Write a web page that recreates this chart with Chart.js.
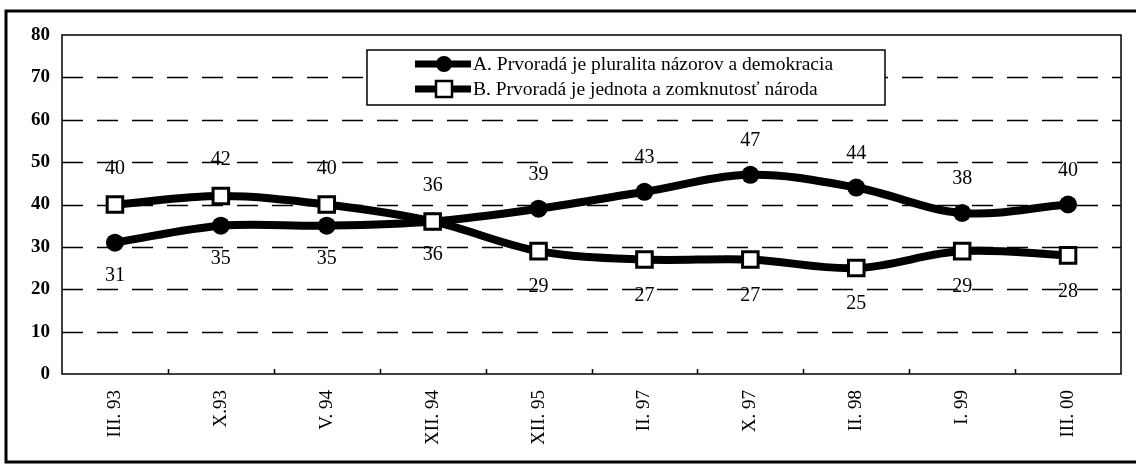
<!DOCTYPE html>
<html>
<head>
<meta charset="utf-8">
<script src="https://cdn.jsdelivr.net/npm/chart.js@4.4.1/dist/chart.umd.min.js"></script>
<style>
    html, body { margin: 0; padding: 0; background: #fff; }
    #wrap { width: 1136px; height: 465px; position: relative; }
</style>
</head>
<body>
<div id="wrap"><canvas id="chart" width="1136" height="465"></canvas></div>
<script>
const categories = ['III. 93', 'X.93', 'V. 94', 'XII. 94', 'XII. 95', 'II. 97', 'X. 97', 'II. 98', 'I. 99', 'III. 00'];
const seriesA = [31, 35, 35, 36, 39, 43, 47, 44, 38, 40];
const seriesB = [40, 42, 40, 36, 29, 27, 27, 25, 29, 28];
const labelA = 'A. Prvoradá je pluralita názorov a demokracia';
const labelB = 'B. Prvoradá je jednota a zomknutosť národa';
const yTicks = [0, 10, 20, 30, 40, 50, 60, 70, 80];

const serif = '"Liberation Serif", "DejaVu Serif", serif';

// white page, dashed horizontal grid
const gridPlugin = {
    id: 'dashGrid',
    beforeDraw: (chart) => {
        const ctx = chart.ctx;
        ctx.save();
        ctx.fillStyle = '#fff';
        ctx.fillRect(0, 0, chart.width, chart.height);
        ctx.restore();
    },
    beforeDatasetsDraw: (chart) => {
        const { ctx, chartArea: a } = chart;
        const y = chart.scales.y;
        ctx.save();
        ctx.strokeStyle = '#000';
        ctx.lineWidth = 1.4;
        ctx.setLineDash([21, 14]);
        yTicks.slice(1, -1).forEach((v) => {
            const py = Math.round(y.getPixelForValue(v)) + 0.5;
            ctx.beginPath();
            ctx.moveTo(a.left, py);
            ctx.lineTo(a.right, py);
            ctx.stroke();
        });
        ctx.restore();
    }
};

// outer frame, plot frame, inside ticks on the x axis
const framePlugin = {
    id: 'frame',
    afterDatasetsDraw: (chart) => {
        const { ctx, chartArea: a } = chart;
        const x = chart.scales.x;
        ctx.save();
        ctx.strokeStyle = '#000';
        ctx.lineWidth = 1.5;
        ctx.strokeRect(a.left, a.top, a.right - a.left, a.bottom - a.top);
        for (let i = 1; i < categories.length; i++) {
            const px = Math.round((x.getPixelForValue(i - 1) + x.getPixelForValue(i)) / 2) + 0.5;
            ctx.beginPath();
            ctx.moveTo(px, a.bottom);
            ctx.lineTo(px, a.bottom - 5);
            ctx.stroke();
        }
        ctx.lineWidth = 3;
        ctx.strokeRect(6, 11, chart.width + 10, chart.height - 11 - 3);
        ctx.restore();
    }
};

// value labels: the higher series gets its label above, the lower one below
const valueLabels = {
    id: 'valueLabels',
    afterDatasetsDraw: (chart) => {
        const ctx = chart.ctx;
        ctx.save();
        ctx.font = `20px ${serif}`;
        ctx.fillStyle = '#000';
        ctx.textAlign = 'center';
        ctx.textBaseline = 'middle';
        const metaA = chart.getDatasetMeta(0);
        const metaB = chart.getDatasetMeta(1);
        categories.forEach((c, i) => {
            const aAbove = seriesA[i] > seriesB[i];
            const pa = metaA.data[i];
            const pb = metaB.data[i];
            ctx.fillText(String(seriesA[i]), pa.x, pa.y + (aAbove ? -34 : 33));
            ctx.fillText(String(seriesB[i]), pb.x, pb.y + (aAbove ? 36 : -36));
        });
        ctx.restore();
    }
};

// legend box drawn inside the plot area
const boxLegend = {
    id: 'boxLegend',
    afterDatasetsDraw: (chart) => {
        const ctx = chart.ctx;
        const bx = 367, by = 50, bw = 518, bh = 55;
        ctx.save();
        ctx.fillStyle = '#fff';
        ctx.fillRect(bx, by, bw, bh);
        ctx.strokeStyle = '#000';
        ctx.lineWidth = 1.5;
        ctx.strokeRect(bx, by, bw, bh);
        const rows = [
            { text: labelA, y: by + 14, marker: 'circle' },
            { text: labelB, y: by + 39, marker: 'square' }
        ];
        rows.forEach((r) => {
            ctx.strokeStyle = '#000';
            ctx.lineWidth = 7;
            ctx.beginPath();
            ctx.moveTo(bx + 48, r.y);
            ctx.lineTo(bx + 104, r.y);
            ctx.stroke();
            if (r.marker === 'circle') {
                ctx.fillStyle = '#000';
                ctx.beginPath();
                ctx.arc(bx + 77, r.y, 8, 0, Math.PI * 2);
                ctx.fill();
            } else {
                ctx.fillStyle = '#fff';
                ctx.lineWidth = 2.5;
                ctx.fillRect(bx + 69, r.y - 8, 16, 16);
                ctx.strokeRect(bx + 69, r.y - 8, 16, 16);
            }
            ctx.fillStyle = '#000';
            ctx.font = `19.5px ${serif}`;
            ctx.textAlign = 'left';
            ctx.textBaseline = 'middle';
            ctx.fillText(r.text, bx + 106, r.y + 1);
        });
        ctx.restore();
    }
};

new Chart(document.getElementById('chart'), {
    type: 'line',
    data: {
        labels: categories,
        datasets: [
            {
                label: labelA,
                data: seriesA,
                order: 1,
                borderColor: '#000',
                backgroundColor: '#000',
                borderWidth: 8,
                tension: 0.35,
                pointStyle: 'circle',
                pointRadius: 9,
                pointBorderWidth: 0,
                pointBackgroundColor: '#000'
            },
            {
                label: labelB,
                data: seriesB,
                order: 0,
                borderColor: '#000',
                backgroundColor: '#fff',
                borderWidth: 8,
                tension: 0.35,
                pointStyle: 'rect',
                pointRadius: 11,
                pointBorderWidth: 3,
                pointBorderColor: '#000',
                pointBackgroundColor: '#fff'
            }
        ]
    },
    options: {
        responsive: false,
        animation: false,
        layout: { padding: { left: 10, right: 15, top: 35, bottom: 6 } },
        plugins: {
            legend: { display: false },
            tooltip: { enabled: false }
        },
        scales: {
            x: {
                offset: true,
                grid: { display: false, drawTicks: false },
                border: { display: false },
                ticks: {
                    color: '#000',
                    font: { family: serif, size: 19 },
                    minRotation: 90,
                    maxRotation: 90,
                    padding: 16,
                    autoSkip: false
                },
                afterFit: (s) => { s.height = 85; }
            },
            y: {
                min: 0,
                max: 80,
                afterBuildTicks: (s) => { s.ticks = yTicks.map((v) => ({ value: v })); },
                grid: { display: false, drawTicks: false },
                border: { display: false },
                ticks: {
                    color: '#000',
                    font: { family: serif, size: 19, weight: 'bold' },
                    padding: 12
                },
                afterFit: (s) => { s.width = 52; }
            }
        }
    },
    plugins: [gridPlugin, framePlugin, valueLabels, boxLegend]
});
</script>
</body>
</html>
